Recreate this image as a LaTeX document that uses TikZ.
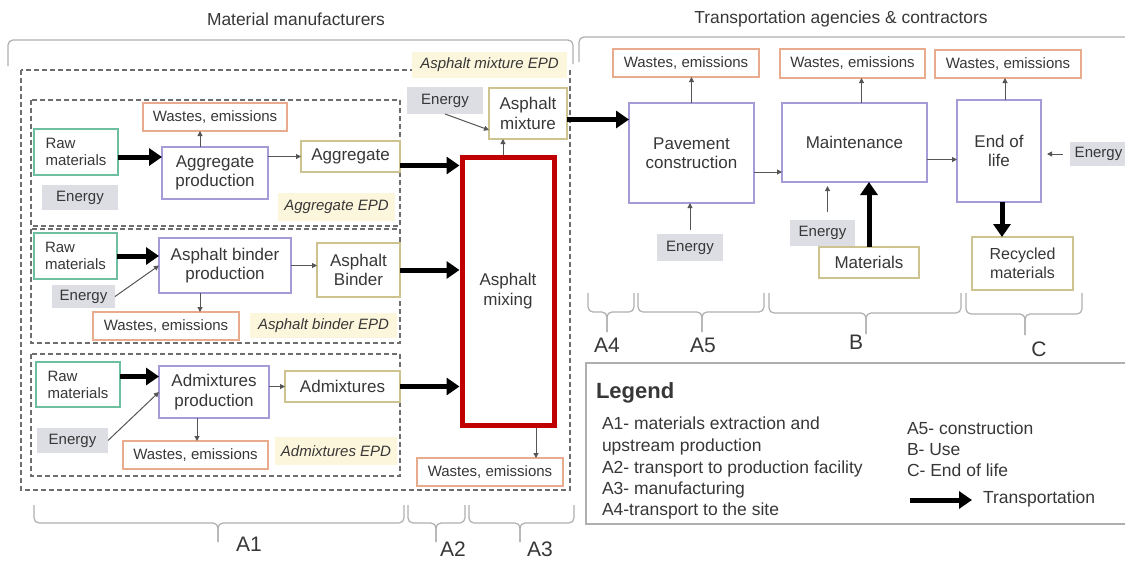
\documentclass[tikz,border=0pt]{standalone}
\usepackage{fontspec}
\setmainfont{Liberation Sans}
\usetikzlibrary{arrows.meta,calc}
\definecolor{txt}{RGB}{55,55,55}
\definecolor{rawc}{RGB}{110,190,160}
\definecolor{procc}{RGB}{165,155,215}
\definecolor{prodc}{RGB}{205,195,145}
\definecolor{wastc}{RGB}{232,172,140}
\definecolor{enfill}{RGB}{220,222,228}
\definecolor{epdfill}{RGB}{252,246,220}
\definecolor{redc}{RGB}{192,0,0}
\definecolor{brc}{RGB}{175,175,175}
\definecolor{dashc}{RGB}{110,110,110}
\definecolor{arrc}{RGB}{85,85,85}
\newcommand\fsm{\fontsize{15}{17}\selectfont}
\newcommand\fbig{\fontsize{17}{19.5}\selectfont}
\newcommand\fhdr{\fontsize{17.4}{20}\selectfont}
\newcommand\flab{\fontsize{21}{23}\selectfont}
\newcommand\fleg{\fontsize{17.5}{22}\selectfont}
\tikzset{
  nbase/.style={anchor=north west, inner sep=0pt, outer sep=0pt, text=txt, align=center},
  wh/.style 2 args={minimum width=#1pt, minimum height=#2pt},
  rawbox/.style={nbase, draw=rawc, line width=1.3pt, font=\fsm, align=left},
  procbox/.style={nbase, draw=procc, line width=1.3pt, font=\fbig},
  prodbox/.style={nbase, draw=prodc, line width=1.3pt, font=\fbig},
  wastbox/.style={nbase, draw=wastc, line width=1.3pt, font=\fsm},
  enbox/.style={nbase, fill=enfill, font=\fsm},
  epdbox/.style={nbase, fill=epdfill, font=\fsm\itshape},
  txtn/.style={inner sep=0pt, outer sep=0pt, text=txt},
  br/.style={draw=brc, line width=1.2pt, rounded corners=5pt},
  dbox/.style={draw=dashc, line width=1.2pt, dash pattern=on 5pt off 3pt},
  tarrow/.style={line width=5pt, draw=black, -{Triangle[length=13pt,width=17pt]}},
  thinarr/.style={line width=1pt, draw=arrc, -{Triangle[length=5pt,width=5pt]}}
}
\begin{document}
\begin{tikzpicture}[x=1pt,y=-1pt]
\useasboundingbox (0,0) rectangle (1125,563);
% headers
\node[txtn, font=\fhdr] (h1) at (296,19) {Material manufacturers};
\node[txtn, font=\fhdr] (h2) at (841,19) {Transportation agencies \& contractors};
% top brackets
\draw[br] (8,66) -- (8,40) -- (573,40) -- (573,64);
\draw[br] (579,62) -- (579,37) -- (1140,37);
% dashed group frames
\draw[dbox] (21,70) rectangle (570,490);
\draw[dbox] (31,100) rectangle (400,226);
\draw[dbox] (31,229) rectangle (400,343);
\draw[dbox] (31,354) rectangle (400,476);

% aggregate group
\node[rawbox, wh={84}{46}] (raw1) at (34,129) {Raw\\materials};
\node[enbox, wh={76}{25}] (en1) at (42,185) {Energy};
\node[wastbox, wh={144}{28}] (was1) at (143,103) {Wastes, emissions};
\node[procbox, wh={106}{52}] (aprod) at (162,147) {Aggregate\\production};
\node[prodbox, wh={99}{31}] (agg) at (301,141) {Aggregate};
\node[epdbox, wh={117}{28}] (epd1) at (278,193) {Aggregate EPD};

% binder group
\node[rawbox, wh={83}{46}] (raw2) at (34,233) {Raw\\materials};
\node[procbox, wh={132}{55}] (bprod) at (159,238) {Asphalt binder\\production};
\node[prodbox, wh={83}{54}] (binder) at (317,243) {Asphalt\\Binder};
\node[enbox, wh={63}{23}] (en2) at (52,285) {Energy};
\node[wastbox, wh={146}{28}] (was2) at (93,312) {Wastes, emissions};
\node[epdbox, wh={147}{25}] (epd2) at (250,313) {Asphalt binder EPD};

% admixtures group
\node[rawbox, wh={84}{45}] (raw3) at (36,362) {Raw\\materials};
\node[procbox, wh={110}{52}] (adprod) at (159,366) {Admixtures\\production};
\node[prodbox, wh={115}{31}] (admx) at (285,371) {Admixtures};
\node[enbox, wh={71}{25}] (en3) at (37,428) {Energy};
\node[wastbox, wh={145}{28}] (was3) at (123,441) {Wastes, emissions};
\node[epdbox, wh={122}{28}] (epd3) at (275,437) {Admixtures EPD};

% asphalt mixture
\node[epdbox, wh={155}{26}] (epd4) at (412,52) {Asphalt mixture EPD};
\node[enbox, wh={76}{27}] (en4) at (407,87) {Energy};
\node[prodbox, wh={78}{51}] (amix) at (489,88) {Asphalt\\mixture};
\node[nbase, draw=redc, line width=5pt, wh={92}{268}, font=\fbig] (mixing) at (462,157) {Asphalt\\mixing};
\node[wastbox, wh={146}{28}] (was4) at (417,458) {Wastes, emissions};

% right side
\node[wastbox, wh={146}{28}] (was5) at (613,49) {Wastes, emissions};
\node[wastbox, wh={145}{29}] (was6) at (780,49) {Wastes, emissions};
\node[wastbox, wh={146}{28}] (was7) at (935,50) {Wastes, emissions};
\node[procbox, wh={125}{100}] (pav) at (629,103) {Pavement\\construction};
\node[procbox, wh={145}{79}] (mnt) at (782,103) {Maintenance};
\node[procbox, wh={84}{102}] (eol) at (957,100) {End of\\life};
\node[enbox, wh={57}{24}] (en5) at (1070,142) {Energy};
\node[enbox, wh={66}{27}] (en6) at (657,234) {Energy};
\node[enbox, wh={65}{26}] (en7) at (790,220) {Energy};
\node[prodbox, wh={100}{31}] (mats) at (819,247) {Materials};
\node[prodbox, wh={101}{53}, font=\fontsize{16}{18.5}\selectfont] (recyc) at (972,237) {Recycled\\materials};

% connectors, left
\draw[tarrow] ($(raw1.east)+(0,5)$) -- ($(raw1.east -| aprod.west)+(0,5)$);
\draw[thinarr] (aprod.east |- agg.west) -- (agg.west);
\draw[thinarr] ($(aprod.north)+(-15,0)$) -- ($(aprod.north |- was1.south)+(-15,0)$);
\draw[tarrow, shorten >=2.5pt] ($(agg.east)+(0,9)$) -- ($(agg.east -| mixing.west)+(0,9)$);

\draw[tarrow] (raw2.east) -- (raw2.east -| bprod.west);
\draw[thinarr] (en2.east) -- (bprod.west);
\draw[thinarr] (bprod.east) -- (bprod.east -| binder.west);
\draw[thinarr] ($(bprod.south)+(-25,0)$) -- ($(bprod.south |- was2.north)+(-25,0)$);
\draw[tarrow, shorten >=2.5pt] (binder.east) -- (binder.east -| mixing.west);

\draw[tarrow] ($(raw3.east)+(0,-8)$) -- ($(raw3.east -| adprod.west)+(0,-8)$);
\draw[thinarr] (en3.east) -- (adprod.west);
\draw[thinarr] (adprod.east |- admx.west) -- (admx.west);
\draw[thinarr] ($(adprod.south)+(-17,0)$) -- ($(adprod.south |- was3.north)+(-17,0)$);
\draw[tarrow, shorten >=2.5pt] (admx.east) -- (admx.east -| mixing.west);

\draw[thinarr] (en4.south) -- ($(amix.south west)+(0,-9)$);
\draw[thinarr, shorten <=2.5pt] ($(mixing.north)+(-5,0)$) -- ($(mixing.north |- amix.south)+(-5,0)$);
\draw[thinarr, shorten <=2.5pt] ($(mixing.south)+(28,0)$) -- ($(mixing.south |- was4.north)+(28,0)$);
\draw[tarrow] ($(amix.east)+(0,6)$) -- ($(amix.east -| pav.west)+(0,6)$);

% connectors, right
\draw[thinarr] (pav.north) -- (pav.north |- was5.south);
\draw[thinarr] ($(pav.east)+(0,19)$) -- ($(pav.east -| mnt.west)+(0,19)$);
\draw[thinarr, shorten <=4pt] (en6.north) -- (en6.north |- pav.south);
\draw[thinarr] ($(mnt.north)+(7,0)$) -- ($(mnt.north |- was6.south)+(7,0)$);
\draw[thinarr, shorten <=8pt, shorten >=4pt] ($(en7.north)+(5,0)$) -- ($(en7.north |- mnt.south)+(5,0)$);
\draw[tarrow] (mats.north) -- (mats.north |- mnt.south);
\draw[thinarr] ($(mnt.east)+(0,17)$) -- ($(mnt.east -| eol.west)+(0,17)$);
\draw[thinarr] ($(eol.north)+(6,0)$) -- ($(eol.north |- was7.south)+(6,0)$);
\draw[tarrow] ($(eol.south)+(3,0)$) -- ($(eol.south |- recyc.north)+(3,0)$);
\draw[thinarr, shorten <=7pt, shorten >=6pt] (en5.west) -- (en5.west -| eol.east);

% bottom brackets, left
\draw[br] (34,505) -- (34,523) -- (218,523) -- (218,542);
\draw[br] (404,505) -- (404,523) -- (218,523) -- (218,542);
\draw[br] (408,505) -- (408,523) -- (436,523) -- (436,542);
\draw[br] (465,505) -- (465,523) -- (436,523) -- (436,542);
\draw[br] (469,505) -- (469,523) -- (520,523) -- (520,542);
\draw[br] (574,505) -- (574,523) -- (520,523) -- (520,542);
\node[txtn, font=\flab] (la1) at (249,544) {A1};
\node[txtn, font=\flab] (la2) at (453,549) {A2};
\node[txtn, font=\flab] (la3) at (540,549) {A3};

% bottom brackets, right
\draw[br] (588,293) -- (588,312) -- (607,312) -- (607,332);
\draw[br] (634,293) -- (634,312) -- (607,312) -- (607,332);
\draw[br] (638,293) -- (638,312) -- (702,312) -- (702,332);
\draw[br] (764,293) -- (764,312) -- (702,312) -- (702,332);
\draw[br] (769,293) -- (769,313) -- (866,313) -- (866,334);
\draw[br] (961,293) -- (961,313) -- (866,313) -- (866,334);
\draw[br] (966,293) -- (966,314) -- (1025,314) -- (1025,335);
\draw[br] (1082,293) -- (1082,314) -- (1025,314) -- (1025,335);
\node[txtn, font=\flab] (la4) at (607,345) {A4};
\node[txtn, font=\flab] (la5) at (703,345) {A5};
\node[txtn, font=\flab] (lb) at (856,342) {B};
\node[txtn, font=\flab] (lc) at (1039,349) {C};

% legend
\node[nbase, draw=brc, line width=1.2pt, wh={560}{161}] (legend) at (586,363) {};
\node[txtn, font=\fontsize{22}{24}\selectfont\bfseries, anchor=west] (lgt) at (596,393) {Legend};
\node[txtn, font=\fleg, anchor=base west] (l1) at (602,429) {A1- materials extraction and};
\node[txtn, font=\fleg, anchor=base west] (l2) at (602,451) {upstream production};
\node[txtn, font=\fleg, anchor=base west] (l3) at (602,473) {A2- transport to production facility};
\node[txtn, font=\fleg, anchor=base west] (l4) at (602,494) {A3- manufacturing};
\node[txtn, font=\fleg, anchor=base west] (l5) at (602,515) {A4-transport to the site};
\node[txtn, font=\fleg, anchor=base west] (r1) at (907,434) {A5- construction};
\node[txtn, font=\fleg, anchor=base west] (r2) at (907,455) {B- Use};
\node[txtn, font=\fleg, anchor=base west] (r3) at (907,476) {C- End of life};
\coordinate (lga) at (910,500);
\node[txtn, font=\fleg, anchor=west] (r4) at (983,499) {Transportation};
\draw[tarrow] (lga) -- ($(r4.west)+(-11,1)$);
\end{tikzpicture}
\end{document}
